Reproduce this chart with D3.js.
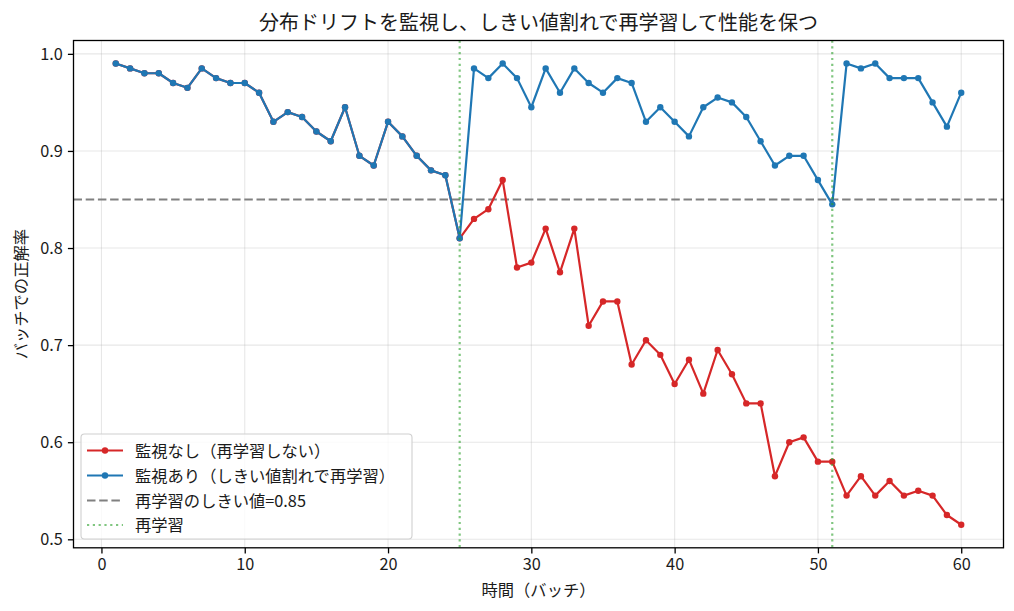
<!DOCTYPE html>
<html><head><meta charset="utf-8">
<script src="https://cdn.jsdelivr.net/npm/d3@7"></script>
<style>body{margin:0;background:#fff;} text{font-family:"Noto Sans CJK JP","Noto Sans",sans-serif;}</style>
</head><body>
<svg id="chart" width="1014" height="611"></svg>
<script>
const batches = d3.range(1, 61);
const accMonitored = [0.99,0.985,0.98,0.98,0.97,0.965,0.985,0.975,0.97,0.97,
  0.96,0.93,0.94,0.935,0.92,0.91,0.945,0.895,0.885,0.93,
  0.915,0.895,0.88,0.875,0.81,0.985,0.975,0.99,0.975,0.945,
  0.985,0.96,0.985,0.97,0.96,0.975,0.97,0.93,0.945,0.93,
  0.915,0.945,0.955,0.95,0.935,0.91,0.885,0.895,0.895,0.87,
  0.845,0.99,0.985,0.99,0.975,0.975,0.975,0.95,0.925,0.96];
const accNoMonitor = [0.99,0.985,0.98,0.98,0.97,0.965,0.985,0.975,0.97,0.97,
  0.96,0.93,0.94,0.935,0.92,0.91,0.945,0.895,0.885,0.93,
  0.915,0.895,0.88,0.875,0.81,0.83,0.84,0.87,0.78,0.785,
  0.82,0.775,0.82,0.72,0.745,0.745,0.68,0.705,0.69,0.66,
  0.685,0.65,0.695,0.67,0.64,0.64,0.565,0.60,0.605,0.58,
  0.58,0.545,0.565,0.545,0.56,0.545,0.55,0.545,0.525,0.515];
const threshold = 0.85;
const retrainBatches = [25, 51];
const xTicks = [0,10,20,30,40,50,60];
const yTicks = [0.5,0.6,0.7,0.8,0.9,1.0];
const title = "分布ドリフトを監視し、しきい値割れで再学習して性能を保つ";
const xLabel = "時間（バッチ）";
const yLabel = "バッチでの正解率";
const legendLabels = ["監視なし（再学習しない）","監視あり（しきい値割れで再学習）","再学習のしきい値=0.85","再学習"];

const svg = d3.select("#chart");
const L = 73.5, R = 1003.5, T = 40.5, B = 547.8;
const x = d3.scaleLinear().domain([-1.95, 62.95]).range([L, R]);
const y = d3.scaleLinear().domain([0.49125, 1.01375]).range([B, T]);
const red = "#d62728", blue = "#1f77b4";

// grid
const g = svg.append("g");
g.selectAll(".gx").data(xTicks).join("line")
  .attr("x1", d=>x(d)).attr("x2", d=>x(d)).attr("y1", T).attr("y2", B)
  .attr("stroke", "#b0b0b0").attr("stroke-opacity", 0.3).attr("stroke-width", 1.1);
g.selectAll(".gy").data(yTicks).join("line")
  .attr("y1", d=>y(d)).attr("y2", d=>y(d)).attr("x1", L).attr("x2", R)
  .attr("stroke", "#b0b0b0").attr("stroke-opacity", 0.3).attr("stroke-width", 1.1);

// threshold
svg.append("line").attr("x1", L).attr("x2", R).attr("y1", y(threshold)).attr("y2", y(threshold))
  .attr("stroke", "#808080").attr("stroke-width", 2.2).attr("stroke-dasharray", "8.5,3.7");

const line = d3.line().x((d,i)=>x(batches[i])).y(d=>y(d));
function series(data, color){
  svg.append("path").datum(data).attr("d", line).attr("fill","none")
    .attr("stroke", color).attr("stroke-width", 2.2).attr("stroke-linejoin","round");
  svg.append("g").selectAll("circle").data(data).join("circle")
    .attr("cx", (d,i)=>x(batches[i])).attr("cy", d=>y(d)).attr("r", 3.2).attr("fill", color);
}
series(accNoMonitor, red);
series(accMonitored, blue);

// retrain lines
svg.selectAll(".rt").data(retrainBatches).join("line")
  .attr("x1", d=>x(d)).attr("x2", d=>x(d)).attr("y1", T).attr("y2", B)
  .attr("stroke", "#2ca02c").attr("stroke-opacity", 0.6).attr("stroke-width", 2.2)
  .attr("stroke-dasharray", "2.2,3.6");

// axes
const xAxis = svg.append("g").attr("transform", `translate(0,${B})`)
  .call(d3.axisBottom(x).tickValues(xTicks).tickFormat(d3.format("d")).tickSizeOuter(0).tickSize(5.6).tickPadding(5));
const yAxis = svg.append("g").attr("transform", `translate(${L},0)`)
  .call(d3.axisLeft(y).tickValues(yTicks).tickFormat(d3.format(".1f")).tickSizeOuter(0).tickSize(5.6).tickPadding(5));
[xAxis, yAxis].forEach(a=>{
  a.select(".domain").remove();
  a.selectAll(".tick line").attr("stroke","#000").attr("stroke-width",1.3);
  a.selectAll(".tick text").attr("font-size", 16.3).attr("fill","#1a1a1a")
    .style("font-family",'"Noto Sans CJK JP",sans-serif');
});
svg.append("rect").attr("x", L).attr("y", T).attr("width", R-L).attr("height", B-T)
  .attr("fill","none").attr("stroke","#000").attr("stroke-width",1.3);

// labels
svg.append("text").attr("x", (L+R)/2).attr("y", 29.5).attr("text-anchor","middle")
  .attr("font-size", 20).attr("fill","#1a1a1a").text(title);
svg.append("text").attr("x", (L+R)/2).attr("y", 595.5).attr("text-anchor","middle")
  .attr("font-size", 16.3).attr("fill","#1a1a1a").text(xLabel);
svg.append("text").attr("transform", `translate(27,${(T+B)/2}) rotate(-90)`).attr("text-anchor","middle")
  .attr("font-size", 16.3).attr("fill","#1a1a1a").text(yLabel);

// legend
const lg = svg.append("g");
lg.append("rect").attr("x", 81).attr("y", 434).attr("width", 331).attr("height", 105).attr("rx", 3.5)
  .attr("fill","#fff").attr("fill-opacity",0.8).attr("stroke","#d0d0d0").attr("stroke-width",1.1);
const rows = [456.5, 481.5, 506.5, 531];
const hx1 = 87, hx2 = 123;
const styles = [
  {c: red, dash: null, marker: true, op: 1},
  {c: blue, dash: null, marker: true, op: 1},
  {c: "#808080", dash: "8.5,3.7", marker: false, op: 1},
  {c: "#2ca02c", dash: "2.2,3.6", marker: false, op: 0.6}
];
legendLabels.forEach((lab, i)=>{
  const yy = rows[i] - 6;
  const s = styles[i];
  lg.append("line").attr("x1", hx1).attr("x2", hx2).attr("y1", yy).attr("y2", yy)
    .attr("stroke", s.c).attr("stroke-width", 2.2).attr("stroke-opacity", s.op)
    .attr("stroke-dasharray", s.dash);
  if (s.marker) lg.append("circle").attr("cx", (hx1+hx2)/2).attr("cy", yy).attr("r", 3.2).attr("fill", s.c);
  lg.append("text").attr("x", 135).attr("y", rows[i]).attr("font-size", 16.3).attr("fill","#1a1a1a").text(lab);
});
</script>
</body></html>
